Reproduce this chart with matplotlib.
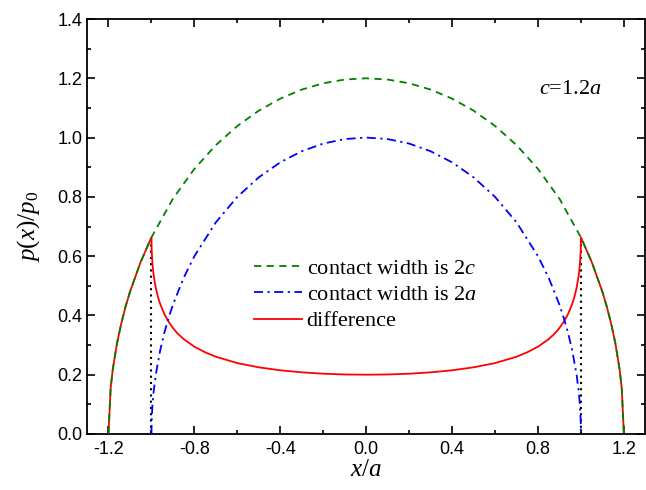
import matplotlib
matplotlib.use("Agg")
import matplotlib.pyplot as plt
from matplotlib.ticker import MultipleLocator

plt.rcParams['mathtext.fontset'] = 'custom'
plt.rcParams['mathtext.rm'] = 'Liberation Serif'
plt.rcParams['mathtext.it'] = 'Liberation Serif:italic'

# half-profile sample positions (symmetric about x=0)
x_green_half = [0.0, 0.1, 0.2, 0.3, 0.4, 0.5, 0.6, 0.7, 0.8, 0.9, 1.0, 1.05, 1.1, 1.12, 1.14, 1.16, 1.18, 1.19, 1.2]
p_green_half = [1.2, 1.1958, 1.1832, 1.1619, 1.1314, 1.0909, 1.0392, 0.9747, 0.8944, 0.7937, 0.6633,
                0.5809, 0.4796, 0.4308, 0.3747, 0.3072, 0.2182, 0.1546, 0.0]

x_blue_half = [0.0, 0.1, 0.2, 0.3, 0.4, 0.5, 0.6, 0.7, 0.8, 0.85, 0.9, 0.92, 0.94, 0.96, 0.98, 0.99, 0.995, 0.999, 1.0]
p_blue_half = [1.0, 0.9950, 0.9798, 0.9539, 0.9165, 0.8660, 0.8, 0.7141, 0.6, 0.5268, 0.4359, 0.3919,
               0.3412, 0.2800, 0.1990, 0.1411, 0.0999, 0.0447, 0.0]

x_red_half = [0.0, 0.1, 0.2, 0.3, 0.4, 0.5, 0.6, 0.7, 0.75, 0.8, 0.85, 0.88, 0.9, 0.92, 0.94, 0.96, 0.97, 0.98, 0.99,
              0.995, 0.999, 1.0, 1.05, 1.1, 1.12, 1.14, 1.16, 1.18, 1.19, 1.2]
p_red_half = [0.2, 0.2008, 0.2034, 0.2080, 0.2149, 0.2249, 0.2392, 0.2606, 0.2757, 0.2944, 0.3202, 0.3403,
              0.3578, 0.3786, 0.4047, 0.4400, 0.4632, 0.4935, 0.5371,
              0.5709, 0.6201, 0.6633, 0.5809, 0.4796, 0.4308, 0.3747, 0.3072, 0.2182, 0.1546, 0.0]

edge_x = [1.0]
edge_p = [0.6633]

labels = ['contact width is 2$c$', 'contact width is 2$a$', 'difference']


def mirror(xs, ps):
    xx = [-v for v in reversed(xs)] + list(xs[1:])
    pp = list(reversed(ps)) + list(ps[1:])
    return xx, pp


fig = plt.figure(figsize=(6.46, 4.90), dpi=100)
ax = fig.add_axes([0.1347, 0.1143, 0.999 - 0.1347, 0.9612 - 0.1143])

xr, pr = mirror(x_red_half, p_red_half)
xg, pg = mirror(x_green_half, p_green_half)
xb, pb = mirror(x_blue_half, p_blue_half)

for ex, ep in zip(edge_x, edge_p):
    for s in (-1, 1):
        ax.plot([s * ex, s * ex], [0, ep], color='black', ls=(0, (1, 2)), lw=1.5, zorder=1)

l_red, = ax.plot(xr, pr, color='#ff0000', lw=1.3, zorder=2)
l_green, = ax.plot(xg, pg, color='#008000', lw=1.3, ls=(0, (4, 3)), zorder=3)
l_blue, = ax.plot(xb, pb, color='#0000ff', lw=1.3, ls=(0, (5, 2.5, 1.2, 2.5)), zorder=3)

ax.set_xlim(-1.3, 1.3)
ax.set_ylim(0, 1.4)
ax.xaxis.set_minor_locator(MultipleLocator(0.2))
ax.yaxis.set_minor_locator(MultipleLocator(0.1))
ax.set_xticks([-1.2, -0.8, -0.4, 0.0, 0.4, 0.8, 1.2])
ax.set_xticklabels(['-1.2', '-0.8', '-0.4', '0.0', '0.4', '0.8', '1.2'])
ax.set_yticks([0.0, 0.2, 0.4, 0.6, 0.8, 1.0, 1.2, 1.4])
ax.set_yticklabels(['0.0', '0.2', '0.4', '0.6', '0.8', '1.0', '1.2', '1.4'])

ax.tick_params(which='both', direction='in', top=True, right=True, width=1.2,
               labelsize=13, labelfontfamily='Liberation Sans')
ax.tick_params(axis='x', which='major', pad=5)
ax.tick_params(axis='y', which='major', pad=3.5)
ax.tick_params(which='major', length=6)
ax.tick_params(which='minor', length=3)
for sp in ax.spines.values():
    sp.set_linewidth(1.3)

ax.set_xlabel('$x/a$', fontsize=18, labelpad=-1)
ax.set_ylabel('$p(x)/p_0$', fontsize=18, labelpad=11)

ax.text(0.866, 0.829, '$c$=1.2$a$', transform=ax.transAxes, fontsize=16,
        family='Liberation Serif', ha='center', va='center')

leg = ax.legend([l_green, l_blue, l_red], labels, loc='upper left',
                bbox_to_anchor=(0.263, 0.471), frameon=False,
                handlelength=2.15, handletextpad=0.23, labelspacing=0.25,
                prop={'family': 'Liberation Serif', 'size': 16})

fig.savefig('out.png', dpi=100)
